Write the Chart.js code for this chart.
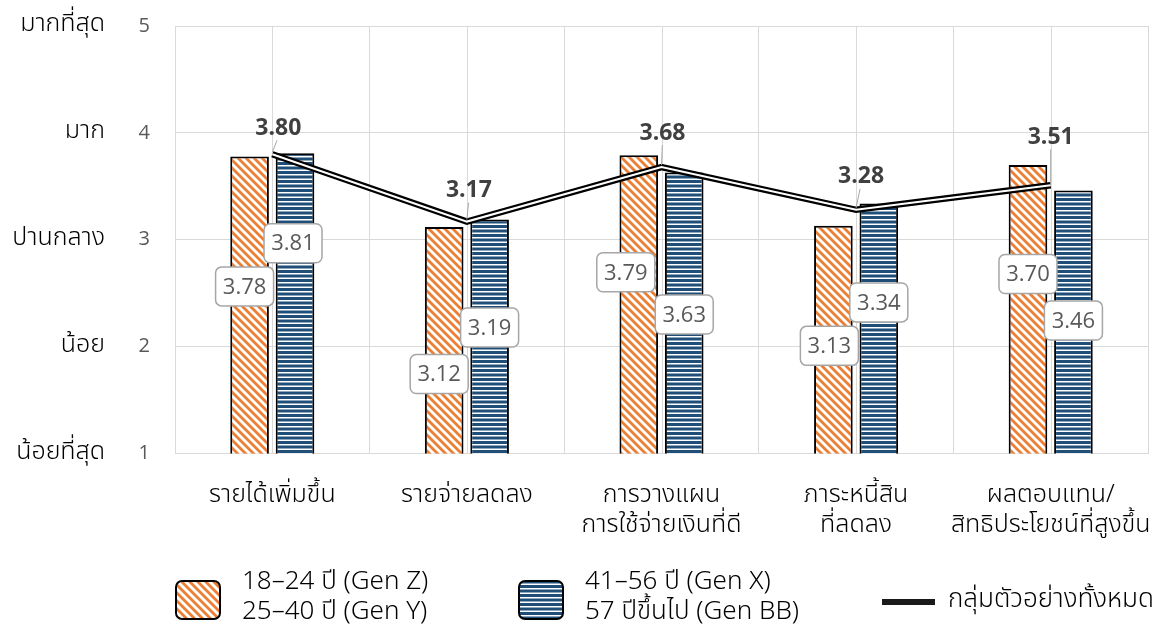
<!DOCTYPE html>
<html>
<head>
<meta charset="utf-8">
<script src="https://cdn.jsdelivr.net/npm/chart.js@4.4.1/dist/chart.umd.min.js"></script>
<style>
  html, body { margin: 0; padding: 0; background: #ffffff; }
  #wrap { width: 1165px; height: 632px; position: relative; }
</style>
</head>
<body>
<div id="wrap"><canvas id="chart" width="1165" height="632"></canvas></div>
<script>
// ---- data -------------------------------------------------------------
const categories = [
  ['รายได้เพิ่มขึ้น'],
  ['รายจ่ายลดลง'],
  ['การวางแผน', 'การใช้จ่ายเงินที่ดี'],
  ['ภาระหนี้สิน', 'ที่ลดลง'],
  ['ผลตอบแทน/', 'สิทธิประโยชน์ที่สูงขึ้น']
];
const youngerScores = [3.78, 3.12, 3.79, 3.13, 3.70];   // Gen Z / Gen Y
const olderScores   = [3.81, 3.19, 3.63, 3.34, 3.46];   // Gen X / Gen BB
const totalScores   = [3.80, 3.17, 3.68, 3.28, 3.51];   // whole sample
const levelLabels   = ['น้อยที่สุด', 'น้อย', 'ปานกลาง', 'มาก', 'มากที่สุด']; // scale 1..5
const youngerName   = ['18–24 ปี (Gen Z)', '25–40 ปี (Gen Y)'];
const olderName     = ['41–56 ปี (Gen X)', '57 ปีขึ้นไป (Gen BB)'];
const totalName     = 'กลุ่มตัวอย่างทั้งหมด';

// ---- label placement (pixel offsets from each mark) --------------------
const youngerLabelShift = { dx: [-5, -5, -13, -4, 0], dy: [130, 147, 117, 120, 109] };
const olderLabelShift   = { dx: [-2, 0, 0, 0, 0],     dy: [90, 108, 142, 99, 130] };
const totalLabelShift   = { dx: [6, 2, 1, 5, 0],      dy: [-26, -31, -34, -33, -48] };

// ---- styling ----------------------------------------------------------
const THAI = '"Noto Sans Thai", "Noto Sans Thai Looped", "Noto Sans", sans-serif';
const NUM = '"Open Sans", "Noto Sans", sans-serif';
const ORANGE = '#ED7D31';
const NAVY = '#1F4E79';
const GRID = '#D9D9D9';

function diagonalPattern() {
  const c = document.createElement('canvas');
  c.width = 8; c.height = 8;
  const g = c.getContext('2d');
  g.fillStyle = '#ffffff';
  g.fillRect(0, 0, 8, 8);
  g.strokeStyle = ORANGE;
  g.lineWidth = 2.8;
  g.beginPath();
  g.moveTo(-4, -4); g.lineTo(12, 12);
  g.moveTo(-4, 4);  g.lineTo(4, 12);
  g.moveTo(4, -4);  g.lineTo(12, 4);
  g.stroke();
  return g.createPattern(c, 'repeat');
}
function horizontalPattern() {
  const c = document.createElement('canvas');
  c.width = 8; c.height = 9;
  const g = c.getContext('2d');
  g.fillStyle = NAVY;
  g.fillRect(0, 0, 8, 9);
  g.fillStyle = '#ffffff';
  g.fillRect(0, 3, 8, 1.5);
  g.fillRect(0, 7.5, 8, 1.5);
  return g.createPattern(c, 'repeat');
}
const orangeFill = diagonalPattern();
const navyFill = horizontalPattern();

function roundRect(ctx, x, y, w, h, r) {
  ctx.beginPath();
  ctx.moveTo(x + r, y);
  ctx.lineTo(x + w - r, y);
  ctx.arcTo(x + w, y, x + w, y + r, r);
  ctx.lineTo(x + w, y + h - r);
  ctx.arcTo(x + w, y + h, x + w - r, y + h, r);
  ctx.lineTo(x + r, y + h);
  ctx.arcTo(x, y + h, x, y + h - r, r);
  ctx.lineTo(x, y + r);
  ctx.arcTo(x, y, x + r, y, r);
  ctx.closePath();
}

// vertical lines through each category centre
const centreLines = {
  id: 'centreLines',
  beforeDatasetsDraw(chart) {
    const { ctx, chartArea, scales: { x } } = chart;
    ctx.save();
    ctx.strokeStyle = GRID;
    ctx.lineWidth = 1;
    categories.forEach((_, i) => {
      const px = Math.round(x.getPixelForValue(i)) + 0.5;
      ctx.beginPath();
      ctx.moveTo(px, chartArea.top);
      ctx.lineTo(px, chartArea.bottom);
      ctx.stroke();
    });
    ctx.restore();
  }
};

// boxed value labels on the bars, bold labels on the total line
const valueLabels = {
  id: 'valueLabels',
  afterDatasetsDraw(chart) {
    const { ctx } = chart;
    ctx.save();
    const boxed = (metaIndex, values, shift) => {
      const meta = chart.getDatasetMeta(metaIndex);
      meta.data.forEach((el, i) => {
        const cx = el.x + shift.dx[i];
        const cy = el.y + shift.dy[i];
        const w = 58, h = 39;
        roundRect(ctx, cx - w / 2, cy - h / 2, w, h, 6);
        ctx.fillStyle = '#ffffff';
        ctx.fill();
        ctx.strokeStyle = '#A6A6A6';
        ctx.lineWidth = 1.5;
        ctx.stroke();
        ctx.fillStyle = '#595959';
        ctx.font = '22px ' + NUM;
        ctx.textAlign = 'center';
        ctx.textBaseline = 'middle';
        ctx.fillText(values[i].toFixed(2), cx, cy + 1);
      });
    };
    boxed(0, youngerScores, youngerLabelShift);
    boxed(1, olderScores, olderLabelShift);

    const meta = chart.getDatasetMeta(2);
    meta.data.forEach((el, i) => {
      const cx = el.x + totalLabelShift.dx[i];
      const cy = el.y + totalLabelShift.dy[i];
      ctx.strokeStyle = '#A6A6A6';
      ctx.lineWidth = 1;
      ctx.beginPath();
      ctx.moveTo(cx - totalLabelShift.dx[i] * 0.2, cy + 12);
      ctx.lineTo(el.x, el.y - 2);
      ctx.stroke();
      ctx.fillStyle = '#404040';
      ctx.font = 'bold 23px ' + NUM;
      ctx.textAlign = 'center';
      ctx.textBaseline = 'middle';
      ctx.fillText(totalScores[i].toFixed(2), cx, cy);
    });
    ctx.restore();
  }
};

// legend below the category labels
const legendBlock = {
  id: 'legendBlock',
  afterDraw(chart) {
    const { ctx } = chart;
    ctx.save();
    const swatch = (x, fill) => {
      roundRect(ctx, x, 581, 44, 38, 6);
      ctx.fillStyle = fill;
      ctx.fill();
      ctx.strokeStyle = '#000000';
      ctx.lineWidth = 2;
      ctx.stroke();
    };
    swatch(176, orangeFill);
    swatch(519, navyFill);
    ctx.fillStyle = '#000000';
    ctx.font = '300 26px ' + THAI;
    ctx.textAlign = 'left';
    ctx.textBaseline = 'middle';
    ctx.fillText(youngerName[0], 242, 584);
    ctx.fillText(youngerName[1], 242, 614);
    ctx.fillText(olderName[0], 585, 584);
    ctx.fillText(olderName[1], 585, 614);
    ctx.strokeStyle = '#1a1a1a';
    ctx.lineWidth = 6;
    ctx.beginPath();
    ctx.moveTo(882, 602);
    ctx.lineTo(935, 602);
    ctx.stroke();
    ctx.fillText(totalName, 948, 602);
    ctx.restore();
  }
};

// the plot area is fixed by the scale sizes alone
function noOverflow(scale) {
  scale.paddingTop = 0;
  scale.paddingBottom = 0;
  scale.paddingLeft = 0;
  scale.paddingRight = 0;
}

new Chart(document.getElementById('chart'), {
  type: 'bar',
  data: {
    labels: categories,
    datasets: [
      {
        label: youngerName.join(' / '),
        data: youngerScores,
        yAxisID: 'yNum',
        backgroundColor: orangeFill,
        borderColor: '#000000',
        borderWidth: 2,
        borderSkipped: false,
        categoryPercentage: 0.467,
        barPercentage: 0.85,
        order: 2
      },
      {
        label: olderName.join(' / '),
        data: olderScores,
        yAxisID: 'yNum',
        backgroundColor: navyFill,
        borderColor: '#000000',
        borderWidth: 2,
        borderSkipped: false,
        categoryPercentage: 0.467,
        barPercentage: 0.85,
        order: 2
      },
      {
        type: 'line',
        label: totalName,
        data: totalScores,
        yAxisID: 'yNum',
        borderColor: '#000000',
        borderWidth: 6.5,
        pointRadius: 0,
        tension: 0,
        fill: false,
        order: 1
      },
      {
        type: 'line',
        label: totalName + ' (inner)',
        data: totalScores,
        yAxisID: 'yNum',
        borderColor: '#ffffff',
        borderWidth: 2,
        pointRadius: 0,
        tension: 0,
        fill: false,
        order: 0
      }
    ]
  },
  options: {
    responsive: false,
    animation: false,
    layout: { padding: { top: 26, right: 17, bottom: 0, left: 0 } },
    plugins: {
      legend: { display: false },
      tooltip: { enabled: false }
    },
    scales: {
      x: {
        offset: true,
        grid: { offset: true, color: GRID, drawTicks: false },
        border: { color: GRID },
        ticks: {
          color: '#000000',
          font: { family: THAI, size: 25, weight: '300', lineHeight: 1.2 },
          padding: 28,
          maxRotation: 0,
          autoSkip: false
        },
        afterFit(scale) { scale.height = 632 - 453.5; noOverflow(scale); }
      },
      yNum: {
        position: 'left',
        weight: 0,
        min: 1,
        max: 5,
        ticks: { stepSize: 1, color: '#595959', font: { family: NUM, size: 20 }, padding: 25 },
        grid: { color: GRID, drawTicks: false },
        border: { display: false },
        afterFit(scale) { scale.width = 65; noOverflow(scale); }
      },
      yText: {
        position: 'left',
        weight: 1,
        min: 1,
        max: 5,
        ticks: {
          stepSize: 1,
          color: '#000000',
          font: { family: THAI, size: 25, weight: '300' },
          padding: 5,
          callback: (v) => levelLabels[v - 1]
        },
        grid: { display: false, drawTicks: false },
        border: { display: false },
        afterFit(scale) { scale.width = 110; noOverflow(scale); }
      }
    }
  },
  plugins: [centreLines, valueLabels, legendBlock]
});
</script>
</body>
</html>
